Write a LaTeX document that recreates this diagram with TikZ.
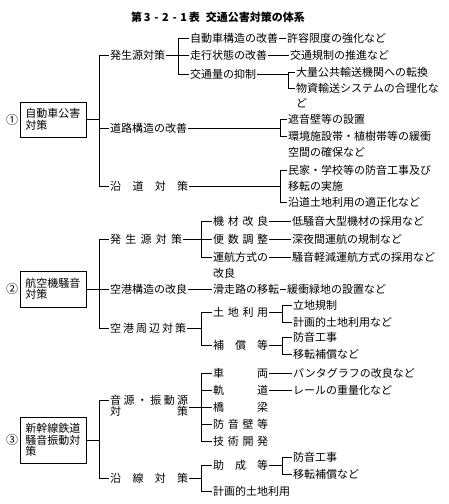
\documentclass[tikz,border=0pt]{standalone}
\usepackage{fontspec}
\newfontfamily\cjk{Noto Sans CJK JP}
\usetikzlibrary{calc}

\newcommand{\spreadtxt}[2]{\hbox to #1{#2}}

\begin{document}
\begin{tikzpicture}[x=1pt, y=-1pt, line width=0.8pt,
  txt/.style={anchor=west, inner xsep=0.8pt, inner ysep=0pt, font=\cjk\fontsize{11pt}{11pt}\selectfont},
  boxnode/.style={draw, line width=0.8pt, anchor=west, text width=56pt, align=left,
    inner xsep=5pt, inner ysep=2pt, font=\cjk\fontsize{11pt}{11.5pt}\selectfont},
  num/.style={inner sep=0pt, font=\cjk\fontsize{12pt}{12pt}\selectfont}]
  \useasboundingbox (0,0) rectangle (448,504);

  % Title
  \node[font=\cjk\bfseries\fontsize{11pt}{11pt}\selectfont] (title) at (218,17)
    {第\,3\,\,-\,\,2\,\,-\,\,1\,表\hspace{6pt}交通公害対策の体系};

  % Bracket positions
  \coordinate (b1) at (99,0);
  \coordinate (b2) at (178,0);
  \coordinate (b3) at (288,0);
  \coordinate (b4) at (280,0);
  \coordinate (b6) at (201,0);
  \coordinate (b8) at (282,0);

  % Group 1: road traffic
  \node[boxnode, minimum height=35pt] (car) at (20,119.5) {自動車公害\\対策};
  \node[num] (n1) at (12,119.5) {①};
  \node[txt] (src1) at (109,55) {発生源対策};
  \node[txt] (road) at (109,128) {道路構造の改善};
  \node[txt] (side) at (109,186) {\spreadtxt{78pt}{沿\hfill 道\hfill 対\hfill 策}};
  \draw (car.east) -- (car.east -| b1);
  \draw (b1 |- src1.west) -- (b1 |- side.west);
  \foreach \n in {src1,road,side} \draw (b1 |- \n.west) -- (\n.west);

  \node[txt] (struct) at (189,38) {自動車構造の改善};
  \node[txt] (drive) at (189,55) {走行状態の改善};
  \node[txt] (volume) at (189,74) {交通量の抑制};
  \draw (src1.east) -- (src1.east -| b2);
  \draw (b2 |- struct.west) -- (b2 |- volume.west);
  \foreach \n in {struct,drive,volume} \draw (b2 |- \n.west) -- (\n.west);

  \node[txt] (limit) at (286,38) {許容限度の強化など};
  \node[txt] (reg) at (289,55) {交通規制の推進など};
  \draw (struct.east) -- (limit.west);
  \draw (drive.east) -- (reg.west);

  \node[txt] (mass) at (295,72) {大量公共輸送機関への転換};
  \node[txt] (freight) at (295,88) {物資輸送システムの合理化な};
  \node[txt] (freight2) at (295,103) {ど};
  \draw (volume.east) -- (volume.east -| b3);
  \draw (b3 |- mass.west) -- (b3 |- freight.west);
  \foreach \n in {mass,freight} \draw (b3 |- \n.west) -- (\n.west);

  \node[txt] (wall) at (287,119) {遮音壁等の設置};
  \node[txt] (buffer) at (287,136) {環境施設帯・植樹帯等の緩衝};
  \node[txt] (buffer2) at (287,152) {空間の確保など};
  \draw (road.east) -- (road.east -| b4);
  \draw (b4 |- wall.west) -- (b4 |- buffer.west);
  \foreach \n in {wall,buffer} \draw (b4 |- \n.west) -- (\n.west);

  \node[txt] (house) at (287,170) {民家・学校等の防音工事及び};
  \node[txt] (house2) at (287,186) {移転の実施};
  \node[txt] (landuse) at (287,202) {沿道土地利用の適正化など};
  \draw (side.east) -- (side.east -| b4);
  \draw (b4 |- house.west) -- (b4 |- landuse.west);
  \foreach \n in {house,landuse} \draw (b4 |- \n.west) -- (\n.west);

  % Group 2: aircraft noise
  \node[boxnode, minimum height=36pt] (air) at (20,289) {航空機騒音\\対策};
  \node[num] (n2) at (12,289) {②};
  \node[txt] (src2) at (109,239) {\spreadtxt{72pt}{発\hfill 生\hfill 源\hfill 対\hfill 策}};
  \node[txt] (port) at (109,289) {空港構造の改良};
  \node[txt] (around) at (109,328) {\spreadtxt{76pt}{空\hfill 港\hfill 周\hfill 辺\hfill 対\hfill 策}};
  \draw (air.east) -- (air.east -| b1);
  \draw (b1 |- src2.west) -- (b1 |- around.west);
  \foreach \n in {src2,port,around} \draw (b1 |- \n.west) -- (\n.west);

  \node[txt] (equip) at (212,221) {\spreadtxt{55pt}{機\hfill 材\hfill 改\hfill 良}};
  \node[txt] (flights) at (212,239) {\spreadtxt{55pt}{便\hfill 数\hfill 調\hfill 整}};
  \node[txt] (ops) at (212,257) {運航方式の};
  \node[txt] (ops2) at (212,273) {改良};
  \draw (src2.east) -- (src2.east -| b6);
  \draw (b6 |- equip.west) -- (b6 |- ops.west);
  \foreach \n in {equip,flights,ops} \draw (b6 |- \n.west) -- (\n.west);

  \node[txt] (quiet) at (291,221) {低騒音大型機材の採用など};
  \node[txt] (night) at (291,239) {深夜間運航の規制など};
  \node[txt] (opsq) at (291,257) {騒音軽減運航方式の採用など};
  \draw (equip.east) -- (quiet.west);
  \draw (flights.east) -- (night.west);
  \draw (ops.east) -- (opsq.west);

  \node[txt] (runway) at (212,289) {滑走路の移転};
  \node[txt] (green) at (286,289) {緩衝緑地の設置など};
  \draw (port.east) -- (runway.west);
  \draw (runway.east) -- (green.west);

  \node[txt] (land) at (212,312) {\spreadtxt{55pt}{土\hfill 地\hfill 利\hfill 用}};
  \node[txt] (comp) at (212,345) {\spreadtxt{55pt}{補\hfill 償\hfill 等}};
  \draw (around.east) -- (around.east -| b6);
  \draw (b6 |- land.west) -- (b6 |- comp.west);
  \foreach \n in {land,comp} \draw (b6 |- \n.west) -- (\n.west);

  \node[txt] (site) at (292,305) {立地規制};
  \node[txt] (plan) at (292,322) {計画的土地利用など};
  \node[txt] (proof) at (292,337) {防音工事};
  \node[txt] (move) at (292,354) {移転補償など};
  \draw (land.east) -- (land.east -| b8);
  \draw (b8 |- site.west) -- (b8 |- plan.west);
  \draw (comp.east) -- (comp.east -| b8);
  \draw (b8 |- proof.west) -- (b8 |- move.west);
  \foreach \n in {site,plan,proof,move} \draw (b8 |- \n.west) -- (\n.west);

  % Group 3: Shinkansen noise and vibration
  \node[boxnode, minimum height=46pt] (rail3) at (20,440) {新幹線鉄道\\騒音振動対\\策};
  \node[num] (n3) at (12,440) {③};
  \node[txt] (srcA) at (109,400) {\spreadtxt{78pt}{音\hfill 源\hfill ・\hfill 振\hfill 動\hfill 源}};
  \node[txt] (srcB) at (109,411) {\spreadtxt{78pt}{対\hfill 策}};
  \node[txt] (line) at (109,478) {\spreadtxt{78pt}{沿\hfill 線\hfill 対\hfill 策}};
  \draw (rail3.east) -- (rail3.east -| b1);
  \draw (b1 |- srcA.west) -- (b1 |- line.west);
  \foreach \n in {srcA,line} \draw (b1 |- \n.west) -- (\n.west);

  \node[txt] (vehicle) at (212,373) {\spreadtxt{55pt}{車\hfill 両}};
  \node[txt] (track) at (212,390) {\spreadtxt{55pt}{軌\hfill 道}};
  \node[txt] (bridge) at (212,407) {\spreadtxt{55pt}{橋\hfill 梁}};
  \node[txt] (barrier) at (212,424) {\spreadtxt{55pt}{防\hfill 音\hfill 壁\hfill 等}};
  \node[txt] (tech) at (212,441) {\spreadtxt{55pt}{技\hfill 術\hfill 開\hfill 発}};
  \draw (srcB.east |- bridge.west) -- (b6 |- bridge.west);
  \draw (b6 |- vehicle.west) -- (b6 |- tech.west);
  \foreach \n in {vehicle,track,bridge,barrier,tech} \draw (b6 |- \n.west) -- (\n.west);

  \node[txt] (panto) at (292,373) {パンタグラフの改良など};
  \node[txt] (heavy) at (292,390) {レールの重量化など};
  \draw (vehicle.east) -- (panto.west);
  \draw (track.east) -- (heavy.west);

  \node[txt] (subsidy) at (212,465) {\spreadtxt{55pt}{助\hfill 成\hfill 等}};
  \node[txt] (plan2) at (212,491) {計画的土地利用};
  \draw (line.east) -- (line.east -| b6);
  \draw (b6 |- subsidy.west) -- (b6 |- plan2.west);
  \foreach \n in {subsidy,plan2} \draw (b6 |- \n.west) -- (\n.west);

  \node[txt] (proof2) at (292,457) {防音工事};
  \node[txt] (move2) at (292,474) {移転補償など};
  \draw (subsidy.east) -- (subsidy.east -| b8);
  \draw (b8 |- proof2.west) -- (b8 |- move2.west);
  \foreach \n in {proof2,move2} \draw (b8 |- \n.west) -- (\n.west);
\end{tikzpicture}
\end{document}
